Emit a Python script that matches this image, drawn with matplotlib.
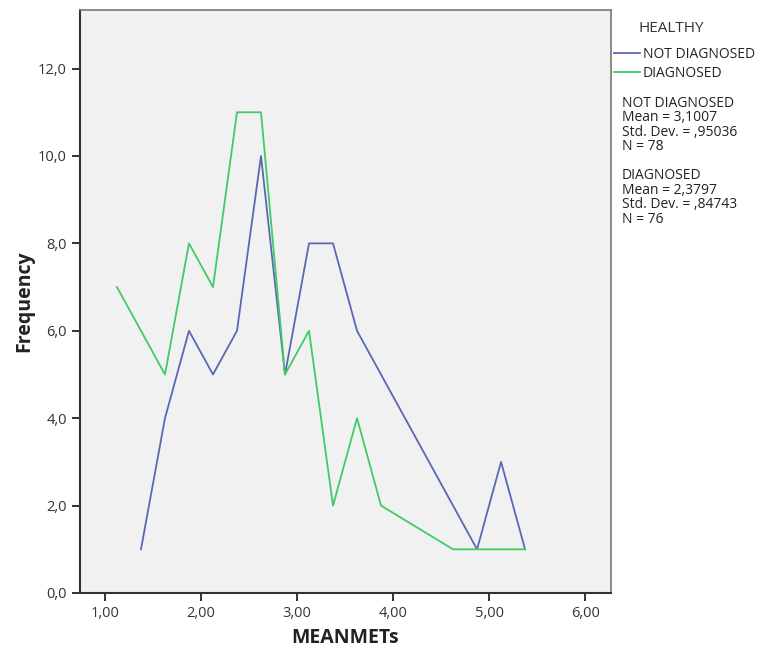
import matplotlib.pyplot as plt
from matplotlib.ticker import FuncFormatter

not_diag_x = [1.375, 1.625, 1.875, 2.125, 2.375, 2.625, 2.875, 3.125, 3.375, 3.625, 4.875, 5.125, 5.375]
not_diag_y = [1, 4, 6, 5, 6, 10, 5, 8, 8, 6, 1, 3, 1]
diag_x = [1.125, 1.625, 1.875, 2.125, 2.375, 2.625, 2.875, 3.125, 3.375, 3.625, 3.875, 4.625, 4.875, 5.125, 5.375]
diag_y = [7, 5, 8, 7, 11, 11, 5, 6, 2, 4, 2, 1, 1, 1, 1]

group_names = ["NOT DIAGNOSED", "DIAGNOSED"]
group_stats = [("3,1007", ",95036", 78), ("2,3797", ",84743", 76)]
x_ticks = [1, 2, 3, 4, 5, 6]
y_ticks = [0, 2, 4, 6, 8, 10, 12]

blue = "#5a68b4"
green = "#3dcc66"

plt.rcParams["font.family"] = ["Open Sans", "DejaVu Sans"]

fig = plt.figure(figsize=(7.6, 6.49), dpi=100)
ax = fig.add_axes([80 / 760, 1 - 593 / 649, 531 / 760, 583 / 649])
ax.set_facecolor("#f1f1f1")

ax.plot(not_diag_x, not_diag_y, color=blue, lw=1.3, label=group_names[0])
ax.plot(diag_x, diag_y, color=green, lw=1.3, label=group_names[1])

ax.set_xlim(0.74, 6.27)
ax.set_ylim(0, 13.34)
ax.set_xticks(x_ticks)
ax.set_yticks(y_ticks)
ax.xaxis.set_major_formatter(FuncFormatter(lambda v, p: f"{v:.2f}".replace(".", ",")))
ax.yaxis.set_major_formatter(FuncFormatter(lambda v, p: f"{v:.1f}".replace(".", ",")))
ax.tick_params(direction="out", length=6, width=1.3, colors="#222222", labelsize=10.5, labelcolor="#333333")

for side in ["left", "bottom"]:
    ax.spines[side].set_linewidth(1.5)
    ax.spines[side].set_color("#333333")
for side in ["top", "right"]:
    ax.spines[side].set_linewidth(1.2)
    ax.spines[side].set_color("#777777")

ax.set_xlabel("MEANMETs", fontsize=14, fontweight="bold", labelpad=5, color="#222222")
ax.set_ylabel("Frequency", fontsize=14, fontweight="bold", labelpad=3, color="#222222")

fig.text(671 / 760, 1 - 29 / 649, "HEALTHY", fontsize=11, color="#333333", ha="center", va="center")
leg = ax.legend(loc="upper left", bbox_to_anchor=(1.005, 0.937), frameon=False,
                fontsize=10, handlelength=1.9, handletextpad=0.2, borderaxespad=0.0,
                borderpad=0.0, labelspacing=0.3)
for t in leg.get_texts():
    t.set_color("#222222")

lines = []
for name, (mean, sd, n) in zip(group_names, group_stats):
    lines.append(f"{name}\nMean = {mean}\nStd. Dev. = {sd}\nN = {n}")
fig.text(622 / 760, 1 - 96 / 649, "\n\n".join(lines), fontsize=10, color="#222222",
         va="top", ha="left", linespacing=0.95)

fig.savefig("out.png", dpi=100)
